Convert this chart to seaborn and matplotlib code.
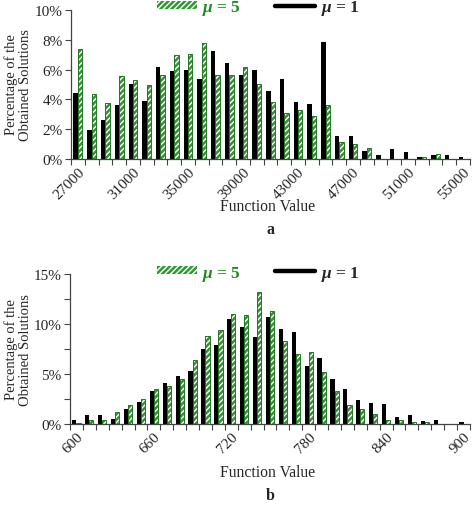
import matplotlib
matplotlib.use("Agg")
import matplotlib.pyplot as plt
import matplotlib.transforms as mtransforms
from matplotlib.lines import Line2D
from matplotlib.patches import Patch, Rectangle
import numpy as np
import pandas as pd
import seaborn as sns

# panel a: 27000 .. 55000, step 1000
values_a = list(range(27000, 55001, 1000))
mu1_a = [4.45, 1.97, 2.64, 3.65, 5.06, 3.87, 6.15, 5.88, 5.97, 5.37,
         7.27, 6.47, 5.65, 5.97, 4.54, 5.37, 3.85, 3.67, 7.85, 1.57,
         1.57, 0.56, 0.25, 0.65, 0.45, 0.16, 0.25, 0.25, 0.16]
mu5_a = [7.38, 4.36, 3.76, 5.57, 5.28, 4.97, 5.66, 6.98, 7.07, 7.76,
         5.66, 5.66, 6.15, 5.03, 3.85, 3.06, 3.27, 2.86, 3.65, 1.12,
         1.03, 0.74, 0.0, 0.0, 0.0, 0.16, 0.36, 0.0, 0.0]
yticks_a = [0, 2, 4, 6, 8, 10]

# panel b: 600 .. 900, step 10
values_b = list(range(600, 901, 10))
mu1_b = [0.40, 0.93, 0.93, 0.53, 1.53, 2.17, 3.30, 4.07, 4.80, 5.27,
         7.53, 7.90, 10.53, 9.67, 8.67, 10.67, 9.50, 9.17, 5.80, 6.57,
         4.53, 3.50, 2.40, 2.13, 2.00, 0.67, 0.93, 0.27, 0.40, 0.0, 0.17]
mu5_b = [0.13, 0.40, 0.40, 1.17, 1.90, 2.50, 3.50, 3.80, 4.50, 6.40,
         8.77, 9.40, 11.03, 10.90, 13.17, 11.30, 8.30, 7.00, 7.17, 5.17,
         3.27, 1.90, 1.50, 1.00, 0.37, 0.40, 0.17, 0.17, 0.0, 0.0, 0.0]
yticks_b = [0, 2.5, 5, 7.5, 10, 12.5, 15]
ylabels_b = ["0%", "", "5%", "", "10%", "", "15%"]

GREEN = "#2f9a2f"
GREEN_EDGE = "#1f7a1f"
TEXT_GREEN = "#1f8a1f"
LAB1 = "$\\mu$ = 1"
LAB5 = "$\\mu$ = 5"

sns.set_style("ticks")
plt.rcParams["font.family"] = ["Liberation Serif", "DejaVu Serif"]
plt.rcParams["mathtext.fontset"] = "custom"
plt.rcParams["mathtext.it"] = "Liberation Serif:italic:bold"
plt.rcParams["mathtext.rm"] = "Liberation Serif:bold"
plt.rcParams["hatch.linewidth"] = 1.0


def long_table(values, mu1, mu5):
    cats = [str(v) for v in values]
    return pd.DataFrame({
        "value": cats * 2,
        "pct": list(mu1) + list(mu5),
        "mu": [LAB1] * len(cats) + [LAB5] * len(cats),
    })


def draw_panel(ax, values, mu1, mu5, label_step, yticks, ylabels, ymax,
               label_shift_px):
    df = long_table(values, mu1, mu5)
    sns.barplot(data=df, x="value", y="pct", hue="mu",
                hue_order=[LAB1, LAB5],
                palette={LAB1: "black", LAB5: GREEN},
                width=0.64, gap=0, errorbar=None, legend=False, ax=ax,
                linewidth=0)
    for p in ax.containers[1]:
        p.set_hatch("//////")
        p.set_edgecolor("white")
        p.set_linewidth(0)
        ax.add_patch(Rectangle(p.get_xy(), p.get_width(), p.get_height(),
                               fill=False, ec=GREEN_EDGE, lw=0.7))

    n = len(values)
    ax.set_xlim(-0.5, n - 0.5)
    ax.set_ylim(0, ymax)
    # tick marks at the category boundaries, labels at category centres
    ax.set_xticks(np.arange(n + 1) - 0.5)
    ax.set_xticklabels([])
    ax.tick_params(axis="x", which="major", length=4, width=0.8, direction="out",
                   color="#444444")
    idx = list(range(0, n, label_step))
    ax.set_xticks(idx, minor=True)
    labels = ax.set_xticklabels([str(values[i]) for i in idx], minor=True,
                                rotation=45, ha="right", rotation_mode="anchor",
                                fontsize=11)
    shift = mtransforms.ScaledTranslation(label_shift_px / 100, 0,
                                          fig.dpi_scale_trans)
    for t in labels:
        t.set_transform(t.get_transform() + shift)
    ax.tick_params(axis="x", which="minor", length=0, pad=4)

    ax.set_yticks(yticks)
    ax.set_yticklabels(ylabels, fontsize=11)
    ax.tick_params(axis="y", length=4, width=0.8, color="#444444", pad=2)
    ax.set_xlabel("")
    ax.set_ylabel("")
    sns.despine(ax=ax)
    for s in ("left", "bottom"):
        ax.spines[s].set_color("#444444")
        ax.spines[s].set_linewidth(0.9)


fig = plt.figure(figsize=(4.73, 5.06), dpi=100)
ax_a = fig.add_axes([71 / 473, 1 - 160 / 506, 399 / 473, 149 / 506])
ax_b = fig.add_axes([70 / 473, 1 - 425 / 506, 400 / 473, 150 / 506])

draw_panel(ax_a, values_a, mu1_a, mu5_a, 4, yticks_a,
           [f"{t}%" for t in yticks_a], 10, 4)
draw_panel(ax_b, values_b, mu1_b, mu5_b, 6, yticks_b, ylabels_b, 15, 1)

handles = [
    Patch(facecolor=GREEN, edgecolor="white", hatch="//////", linewidth=0),
    Line2D([0], [0], color="black", lw=3.2),
]
for ypos in (1 - 9 / 506, 1 - 274 / 506):
    leg = fig.legend(handles, [LAB5, LAB1], loc="center",
                     bbox_to_anchor=(258 / 473, ypos), ncol=2, frameon=False,
                     handlelength=2.3, handleheight=0.3, handletextpad=0.3,
                     columnspacing=2.0, borderaxespad=0, borderpad=0,
                     prop={"size": 12.5, "weight": "bold"})
    leg.get_texts()[0].set_color(TEXT_GREEN)

ylab = "Percentage of the\nObtained Solutions"
fig.text(18 / 473, 1 - 85 / 506, ylab, rotation=90, ha="center", va="center",
         fontsize=10.5, linespacing=1.05)
fig.text(18 / 473, 1 - 350 / 506, ylab, rotation=90, ha="center", va="center",
         fontsize=10.5, linespacing=1.05)

fig.text(268 / 473, 1 - 207 / 506, "Function Value", ha="center", va="center",
         fontsize=11.3)
fig.text(270 / 473, 1 - 230 / 506, "a", ha="center", va="center",
         fontsize=11.5, fontweight="bold")
fig.text(268 / 473, 1 - 473 / 506, "Function Value", ha="center", va="center",
         fontsize=11.3)
fig.text(270 / 473, 1 - 496 / 506, "b", ha="center", va="center",
         fontsize=11.5, fontweight="bold")

fig.savefig("out.png", dpi=100)
